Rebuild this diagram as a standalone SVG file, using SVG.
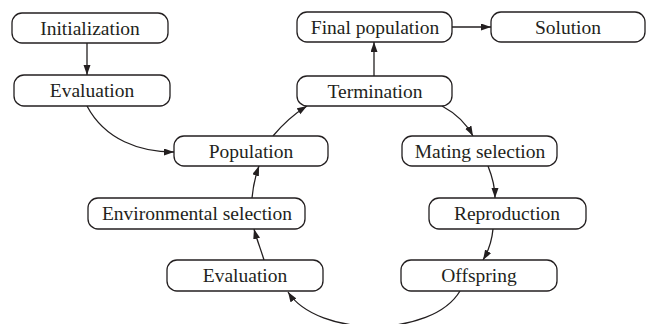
<svg xmlns="http://www.w3.org/2000/svg" width="647" height="324" viewBox="0 0 647 324">
<defs>
<style>
.n rect{fill:#fff;stroke:#231f20;stroke-width:1.3}
.n text{font-family:"Liberation Serif","Times New Roman",serif;font-size:19.5px;fill:#231f20;text-anchor:middle}
.c path{fill:none;stroke:#231f20;stroke-width:1.3}
</style>
<marker id="ah" markerUnits="userSpaceOnUse" markerWidth="11" markerHeight="8" refX="10" refY="3.5" orient="auto">
<path d="M0,0 L10,3.5 L0,7 z" fill="#231f20"/>
</marker>
</defs>
<rect width="647" height="324" fill="#fff"/>
<g class="c">
<path d="M87,43 L87,75" marker-end="url(#ah)"/>
<path d="M87,106 C105,140 140,152 174,152" marker-end="url(#ah)"/>
<path d="M273,136 C283,124 294,114 307,106" marker-end="url(#ah)"/>
<path d="M374,76 L374,42" marker-end="url(#ah)"/>
<path d="M452,27 L491,27" marker-end="url(#ah)"/>
<path d="M442,106 C455,113 466,123 473,136" marker-end="url(#ah)"/>
<path d="M488,166 C492,176 495,186 495,198" marker-end="url(#ah)"/>
<path d="M493,229 C492,240 489,250 483,260" marker-end="url(#ah)"/>
<path d="M460,291 C432,338 318,338 288,292" marker-end="url(#ah)"/>
<path d="M264,260 C261,250 257,240 254,229" marker-end="url(#ah)"/>
<path d="M252,198 C253,187 255,177 259,166" marker-end="url(#ah)"/>
</g>
<g id="initialization" class="n"><rect x="12" y="13" width="156" height="30" rx="10"/><text x="90" y="35">Initialization</text></g>
<g id="evaluation1" class="n"><rect x="14" y="75" width="156" height="31" rx="10"/><text x="92" y="97">Evaluation</text></g>
<g id="population" class="n"><rect x="174" y="136" width="154" height="30" rx="10"/><text x="251" y="158">Population</text></g>
<g id="final" class="n"><rect x="297" y="12" width="155" height="30" rx="10"/><text x="375" y="34">Final population</text></g>
<g id="solution" class="n"><rect x="491" y="12" width="154" height="30" rx="10"/><text x="568" y="34">Solution</text></g>
<g id="termination" class="n"><rect x="297" y="76" width="155" height="30" rx="10"/><text x="375" y="98">Termination</text></g>
<g id="mating" class="n"><rect x="402" y="136" width="155" height="30" rx="10"/><text x="480" y="158">Mating selection</text></g>
<g id="reproduction" class="n"><rect x="429" y="198" width="157" height="31" rx="10"/><text x="507" y="220">Reproduction</text></g>
<g id="offspring" class="n"><rect x="401" y="260" width="156" height="31" rx="10"/><text x="479" y="282">Offspring</text></g>
<g id="environmental" class="n"><rect x="88" y="198" width="217" height="31" rx="10"/><text x="197" y="220">Environmental selection</text></g>
<g id="evaluation2" class="n"><rect x="167" y="260" width="156" height="31" rx="10"/><text x="245" y="282">Evaluation</text></g>
</svg>
